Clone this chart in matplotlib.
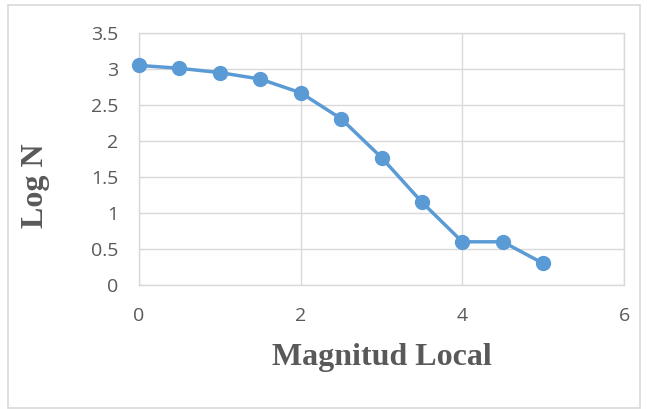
import matplotlib.pyplot as plt
from matplotlib.patches import Rectangle

magnitud = [0, 0.5, 1, 1.5, 2, 2.5, 3, 3.5, 4, 4.5, 5]
log_n = [3.05, 3.01, 2.95, 2.86, 2.67, 2.31, 1.77, 1.15, 0.60, 0.60, 0.30]

x_ticks = [0, 2, 4, 6]
y_ticks = [0, 0.5, 1, 1.5, 2, 2.5, 3, 3.5]

gray = "#595959"
grid = "#d9d9d9"

fig = plt.figure(figsize=(6.47, 4.09), dpi=100)
fig.patches.append(Rectangle((8 / 647, 1 / 409), 632 / 647, 403 / 409,
                             transform=fig.transFigure, fill=False,
                             edgecolor=grid, linewidth=1.2))
ax = fig.add_axes([139 / 647, 124 / 409, 485 / 647, 252 / 409])

ax.plot(magnitud, log_n, color="#5b9bd5", linewidth=2.5, marker="o",
        markersize=10, zorder=3, clip_on=False)

ax.set_xlim(0, 6)
ax.set_ylim(0, 3.5)
ax.set_xticks(x_ticks)
ax.set_yticks(y_ticks)
ax.set_xticklabels([str(v) for v in x_ticks])
ax.set_yticklabels(["0", "0.5", "1", "1.5", "2", "2.5", "3", "3.5"])
ax.grid(True, color=grid, linewidth=1)
ax.set_axisbelow(True)
for s in ax.spines.values():
    s.set_color(grid)
    s.set_linewidth(1)
ax.tick_params(length=0, labelsize=14, labelcolor=gray)
ax.tick_params(axis="x", pad=16)
ax.tick_params(axis="y", pad=15)
for lbl in ax.get_xticklabels() + ax.get_yticklabels():
    lbl.set_fontfamily("Open Sans")

ax.set_xlabel("Magnitud Local", fontsize=23, fontweight="bold",
              fontfamily="Liberation Serif", color=gray, va="center")
ax.set_ylabel("Log N", fontsize=23, fontweight="bold",
              fontfamily="Liberation Serif", color=gray, va="center")
ax.xaxis.set_label_coords(0.5, (285 - 357) / 252)
ax.yaxis.set_label_coords((36 - 139) / 485, (285 - 186) / 252)

plt.savefig("out.png", dpi=100)
plt.close()
